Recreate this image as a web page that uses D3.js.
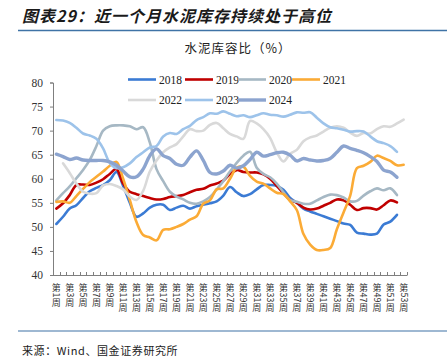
<!DOCTYPE html>
<html><head><meta charset="utf-8">
<script src="https://cdn.jsdelivr.net/npm/d3@7"></script>
<style>
html,body{margin:0;padding:0;background:#fff;}
svg{display:block;}
</style></head>
<body>
<svg id="chart" width="447" height="361"></svg>
<script>
const weeks = d3.range(1, 54);
const weekLabels = weeks.filter(w => w % 2 === 1).map(w => "第" + w + "周");
const yTicks = [40, 45, 50, 55, 60, 65, 70, 75, 80];
const seriesNames = ["2018", "2019", "2020", "2021", "2022", "2023", "2024"];

const s2018 = [50.6,52.1,53.8,54.5,56.0,57.4,58.1,58.7,59.7,61.4,58.5,55.0,52.1,52.8,54.0,54.6,54.6,53.5,54.0,54.4,53.8,54.3,54.6,54.9,55.3,56.5,58.3,57.2,56.4,56.8,57.8,58.7,58.7,58.5,57.7,56.0,55.0,53.8,53.2,52.7,52.2,51.7,51.2,50.7,50.4,48.8,48.6,48.4,48.6,50.5,51.1,52.5];
const s2019 = [53.8,54.9,56.6,58.7,58.8,58.7,59.2,59.9,61.0,62.0,59.0,57.3,56.8,56.4,56.0,55.7,55.8,56.2,56.4,56.6,57.2,57.7,57.9,58.6,59.0,59.6,61.0,61.8,61.4,61.3,61.3,60.9,60.0,58.5,57.0,55.6,55.0,54.0,53.6,53.8,54.4,55.0,55.7,55.5,54.6,53.5,53.9,53.9,53.6,54.5,55.5,55.1];
const s2020 = [55.5,57.0,58.4,60.1,61.8,63.9,66.8,70.0,70.9,71.1,71.1,70.9,70.3,70.7,67.5,62.0,59.5,57.3,56.3,55.7,55.0,54.8,55.3,56.2,57.8,59.5,61.5,63.3,64.8,65.6,62.3,61.0,60.3,59.0,57.2,55.6,55.2,54.8,54.8,55.5,56.2,56.7,56.6,56.1,55.3,55.4,56.5,57.4,58.0,57.6,58.0,56.6];
const s2021 = [55.2,55.3,55.0,56.4,57.9,59.3,60.4,61.5,62.7,63.5,60.0,55.6,51.0,48.3,47.8,47.2,49.4,49.5,50.0,50.6,51.5,52.2,54.8,55.5,57.8,58.0,60.0,62.3,62.5,60.6,59.4,59.0,58.0,57.1,56.8,55.3,53.5,48.5,46.3,45.2,45.2,45.6,49.5,53.0,56.5,62.2,62.7,63.5,64.8,64.3,63.7,62.8,62.9];
const s2022 = [null,63.2,61.2,59.0,57.3,56.9,57.0,58.6,58.9,58.5,57.8,56.3,55.6,57.5,61.5,63.8,65.5,66.5,67.2,68.8,70.3,69.9,70.0,71.2,71.6,70.5,69.3,68.8,68.3,72.0,71.5,70.3,68.5,65.5,63.6,65.2,66.0,67.8,68.6,69.0,69.8,70.6,70.9,70.6,69.6,68.9,69.5,69.4,70.3,70.9,70.8,71.5,72.3];
const s2023 = [72.2,72.1,71.6,70.6,69.4,69.0,68.3,66.3,63.3,62.2,62.4,63.2,64.5,65.5,66.5,66.8,68.8,69.5,69.3,70.3,71.0,72.2,72.8,73.6,73.5,74.0,73.5,73.0,73.2,72.8,73.2,73.6,73.3,73.2,72.9,73.3,73.8,73.7,73.8,72.7,71.5,70.7,70.5,70.2,69.8,69.9,69.8,68.8,67.8,67.4,66.8,65.6];
const s2024 = [65.1,64.6,64.0,64.3,63.9,63.8,63.8,63.8,63.5,62.8,61.6,60.4,60.4,62.0,64.8,66.2,64.8,64.2,63.0,62.8,64.5,65.8,63.8,61.3,61.0,61.6,62.8,62.2,62.7,64.0,65.5,64.7,65.0,65.4,65.5,64.9,63.7,64.2,63.9,63.7,63.8,64.2,65.5,66.8,66.3,65.9,65.4,64.6,63.6,61.8,61.4,60.3];

const seriesValues = [s2018, s2019, s2020, s2021, s2022, s2023, s2024];
const colors = ["#3b7bd4", "#c00000", "#a6b8c4", "#fbab36", "#d9d9d9", "#9dc3ea", "#8ca4cf"];
const widths = [2.6, 2.6, 2.6, 2.6, 2.6, 2.6, 3.4];

const svg = d3.select("#chart");
const L = 53, R = 407, T = 82.5, B = 275;
const cjk = "'Noto Sans CJK SC', sans-serif";

// Title
svg.append("text").attr("x", 22).attr("y", 22)
  .attr("font-family", cjk).attr("font-size", 16)
  .attr("font-weight", "bold").attr("font-style", "italic").attr("letter-spacing", 1)
  .attr("fill", "#1a1a1a").text("图表29：近一个月水泥库存持续处于高位");
svg.append("line").attr("x1", 18).attr("x2", 447).attr("y1", 30.5).attr("y2", 30.5)
  .attr("stroke", "#3f73a6").attr("stroke-width", 1.6);

// Subtitle
svg.append("text").attr("x", 238).attr("y", 53).attr("text-anchor", "middle")
  .attr("font-family", cjk).attr("font-size", 12.5)
  .attr("letter-spacing", 1).attr("fill", "#222").text("水泥库容比（%）");

// Scales
const x = d3.scaleBand().domain(weeks).range([L, R]);
const y = d3.scaleLinear().domain([40, 80]).range([B, T]);

// Y axis
const yAxis = d3.axisLeft(y).tickValues(yTicks).tickSize(3).tickPadding(7).tickFormat(d3.format("d"));
const yg = svg.append("g").attr("transform", `translate(${L},0)`).call(yAxis);
yg.select(".domain").attr("stroke", "#7f7f7f");
yg.selectAll(".tick line").attr("stroke", "#7f7f7f");
yg.selectAll(".tick text").attr("font-family", "'Liberation Serif', 'Times New Roman', serif")
  .attr("font-size", 11.5).attr("fill", "#333");

// X axis: line + ticks between categories
const xg = svg.append("g");
xg.append("line").attr("x1", L).attr("x2", R).attr("y1", B + 0.5).attr("y2", B + 0.5).attr("stroke", "#7f7f7f");
const boundaries = weeks.map(w => x(w)).concat([x(53) + x.bandwidth()]);
xg.selectAll("line.t").data(boundaries).join("line").attr("class", "t")
  .attr("x1", d => Math.round(d) + 0.5).attr("x2", d => Math.round(d) + 0.5)
  .attr("y1", B - 3).attr("y2", B + 0.5).attr("stroke", "#7f7f7f");

// Vertical week labels: CJK upright, digits rotated sideways
const fs = 9;
weekLabels.forEach(lbl => {
  const num = lbl.replace(/\D/g, "");
  const cx = x(+num) + x.bandwidth() / 2;
  const g = xg.append("g").attr("fill", "#333").attr("font-family", cjk).attr("font-size", fs);
  let top = 283;
  g.append("text").attr("x", cx).attr("y", top + fs * 0.88).attr("text-anchor", "middle").text("第");
  top += fs + 0.5;
  const dt = g.append("text").attr("transform", `translate(${cx},${top}) rotate(90)`)
    .attr("dy", "0.35em").attr("text-anchor", "start").text(num);
  const len = dt.node().getComputedTextLength();
  top += len + 0.8;
  g.append("text").attr("x", cx).attr("y", top + fs * 0.88).attr("text-anchor", "middle").text("周");
});

// Lines
const line = d3.line()
  .defined(d => d.v != null)
  .x(d => x(d.w) + x.bandwidth() / 2)
  .y(d => y(d.v))
  .curve(d3.curveCatmullRom.alpha(0.5));

seriesNames.forEach((name, i) => {
  const data = seriesValues[i].map((v, j) => ({ w: j + 1, v }));
  svg.append("path").datum(data.filter(d => d.v != null))
    .attr("fill", "none").attr("stroke", colors[i]).attr("stroke-width", widths[i])
    .attr("stroke-linejoin", "round").attr("stroke-linecap", "round")
    .attr("d", line);
});

// Legend
const legX = [128, 185, 238, 292, 128, 185, 238];
const legY = [79.5, 79.5, 79.5, 79.5, 100, 100, 100];
seriesNames.forEach((name, i) => {
  const g = svg.append("g");
  g.append("line").attr("x1", legX[i]).attr("x2", legX[i] + 28)
    .attr("y1", legY[i]).attr("y2", legY[i])
    .attr("stroke", colors[i]).attr("stroke-width", widths[i]);
  g.append("text").attr("x", legX[i] + 31).attr("y", legY[i] + 4)
    .attr("font-family", "'Liberation Serif', 'Times New Roman', serif")
    .attr("font-size", 11.5).attr("fill", "#222").text(name);
});

// Source
svg.append("line").attr("x1", 18).attr("x2", 447).attr("y1", 331).attr("y2", 331)
  .attr("stroke", "#3f73a6").attr("stroke-width", 1.2);
svg.append("text").attr("x", 22).attr("y", 355)
  .attr("font-family", cjk).attr("font-size", 11)
  .attr("letter-spacing", 0.6).attr("fill", "#222").text("来源：Wind、国金证券研究所");
</script>
</body></html>
